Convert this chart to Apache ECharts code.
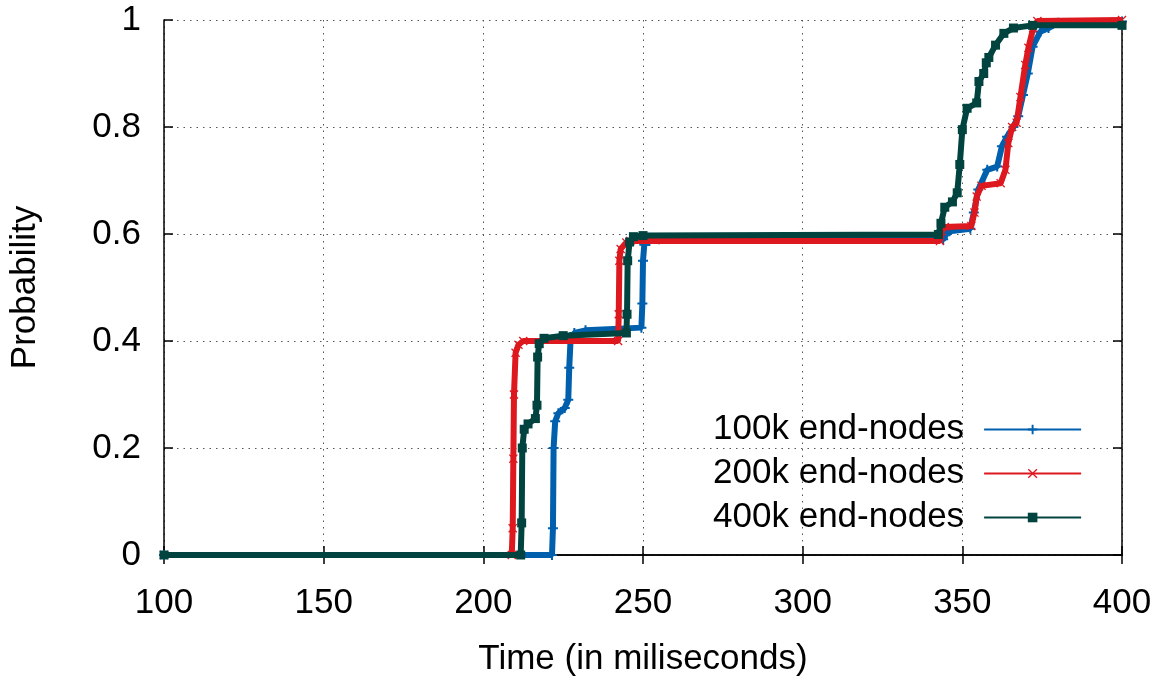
<!DOCTYPE html>
<html>
<head>
<meta charset="utf-8">
<script src="https://cdn.jsdelivr.net/npm/echarts@6/dist/echarts.min.js"></script>
<style>
html,body{margin:0;padding:0;background:#fff;}
#chart{width:1155px;height:682px;}
</style>
</head>
<body>
<div id="chart"></div>
<script>
// ---- data (time in ms, cumulative probability) ----
const seriesNames = ['100k end-nodes', '200k end-nodes', '400k end-nodes'];
const xTicks = [100, 150, 200, 250, 300, 350, 400];
const yTicks = [0, 0.2, 0.4, 0.6, 0.8, 1];

const cdf100k = [
  [100,0],[221.5,0],[221.8,0.05],[222.0,0.2],[222.5,0.25],[223.5,0.265],[225.5,0.275],
  [226.6,0.29],[226.9,0.35],[227.3,0.40],[228.5,0.415],[232,0.42],[249.5,0.425],
  [249.8,0.47],[250.0,0.55],[250.4,0.58],[252,0.587],[255,0.59],[344,0.59],[345,0.60],
  [346,0.605],[352.5,0.61],[353.6,0.64],[355,0.683],[357.8,0.72],[360.9,0.726],
  [362.4,0.764],[364,0.782],[366,0.80],[367.5,0.82],[369,0.86],[370.5,0.90],[372,0.95],
  [374.4,0.978],[377,0.985],[380,0.995],[400,0.997]
];
const cdf200k = [
  [100,0],[208.9,0],[209.2,0.05],[209.4,0.18],[209.6,0.30],[210.1,0.378],[211,0.393],
  [212.5,0.40],[242.2,0.40],[242.4,0.45],[242.6,0.55],[243,0.572],[244.8,0.584],
  [246,0.587],[343,0.587],[343.5,0.605],[344.5,0.613],[352.8,0.615],[353.8,0.64],
  [354.5,0.67],[356,0.69],[362,0.695],[363.5,0.72],[364.4,0.77],[365.6,0.80],[367,0.808],
  [368.2,0.856],[369.7,0.916],[370.7,0.948],[372.2,0.985],[373.5,0.998],[400,1.0]
];
const cdf400k = [
  [100,0],[211.7,0],[212.0,0.06],[212.2,0.2],[212.8,0.235],[214,0.245],[216.3,0.255],
  [216.8,0.28],[217.0,0.37],[217.5,0.395],[219,0.405],[225,0.41],[244.8,0.415],
  [245.0,0.45],[245.2,0.55],[245.8,0.585],[247,0.595],[250,0.597],[342.5,0.599],
  [343.3,0.62],[344.5,0.65],[346.9,0.66],[348.4,0.677],[349.2,0.73],[350,0.795],
  [351.5,0.835],[354.5,0.845],[355.2,0.885],[356.7,0.90],[357.5,0.92],[358.3,0.93],
  [360.4,0.953],[363,0.975],[366,0.985],[372,0.99],[400,0.99]
];

const colors = ['#0060ad', '#dd181f', '#00433f'];
const plusPath = 'path://M4,0h2v4h4v2h-4v4h-2v-4h-4v-2h4z';
const crossPath = 'path://M1,0L5,4L9,0L10,1L6,5L10,9L9,10L5,6L1,10L0,9L4,5L0,1Z';
const symbols = [plusPath, crossPath, 'rect'];
const symbolSizes = [10, 9, 9];

const FONT = 'Liberation Sans, Arial, Helvetica, sans-serif';
const FS = 35;
const chart = echarts.init(document.getElementById('chart'), null, {renderer: 'canvas'});

const datasets = [cdf100k, cdf200k, cdf400k];
const series = datasets.map((d, i) => ({
  name: seriesNames[i],
  type: 'line',
  data: d,
  xAxisIndex: 0,
  yAxisIndex: 0,
  showSymbol: true,
  symbol: symbols[i],
  symbolSize: symbolSizes[i],
  color: colors[i],
  itemStyle: {color: colors[i]},
  lineStyle: {color: colors[i], width: 6},
  animation: false,
  z: 3 + i
}));

const axisCommon = {
  type: 'value',
  axisLine: {show: true, lineStyle: {color: '#000', width: 1.5}},
  axisTick: {show: true, inside: true, length: 9, lineStyle: {color: '#000', width: 1.5}},
};

chart.setOption({
  backgroundColor: '#fff',
  animation: false,
  textStyle: {fontFamily: FONT},
  grid: {left: 160, right: 33, top: 20, bottom: 126, containLabel: false},
  legend: {
    data: seriesNames,
    orient: 'vertical',
    right: 73,
    top: 412,
    padding: 0,
    align: 'right',
    itemWidth: 97,
    itemHeight: 12,
    itemGap: 9,
    lineStyle: {width: 1.8},
    textStyle: {fontSize: FS, lineHeight: FS, color: '#000', fontFamily: FONT, padding: [0, 15, 0, 0]}
  },
  xAxis: [
    Object.assign({}, axisCommon, {
      position: 'bottom', min: xTicks[0], max: xTicks[xTicks.length - 1], interval: 50,
      name: 'Time (in miliseconds)', nameLocation: 'middle', nameGap: 87,
      nameTextStyle: {fontSize: FS, color: '#000', fontFamily: FONT},
      axisLabel: {fontSize: FS, color: '#000', margin: 31, fontFamily: FONT},
      splitLine: {show: true, lineStyle: {color: '#555', width: 1, type: [1.5, 5]}}
    }),
    Object.assign({}, axisCommon, {
      position: 'top', min: xTicks[0], max: xTicks[xTicks.length - 1], interval: 50,
      axisLabel: {show: false}, splitLine: {show: false}
    })
  ],
  yAxis: [
    Object.assign({}, axisCommon, {
      position: 'left', min: yTicks[0], max: yTicks[yTicks.length - 1], interval: 0.2,
      name: 'Probability', nameLocation: 'middle', nameGap: 121, nameRotate: 90,
      nameTextStyle: {fontSize: FS, color: '#000', fontFamily: FONT},
      axisLabel: {fontSize: FS, color: '#000', margin: 23, fontFamily: FONT},
      splitLine: {show: true, lineStyle: {color: '#555', width: 1, type: [1.5, 5]}}
    }),
    Object.assign({}, axisCommon, {
      position: 'right', min: yTicks[0], max: yTicks[yTicks.length - 1], interval: 0.2,
      axisLabel: {show: false}, splitLine: {show: false}
    })
  ],
  series: series
});
</script>
</body>
</html>
